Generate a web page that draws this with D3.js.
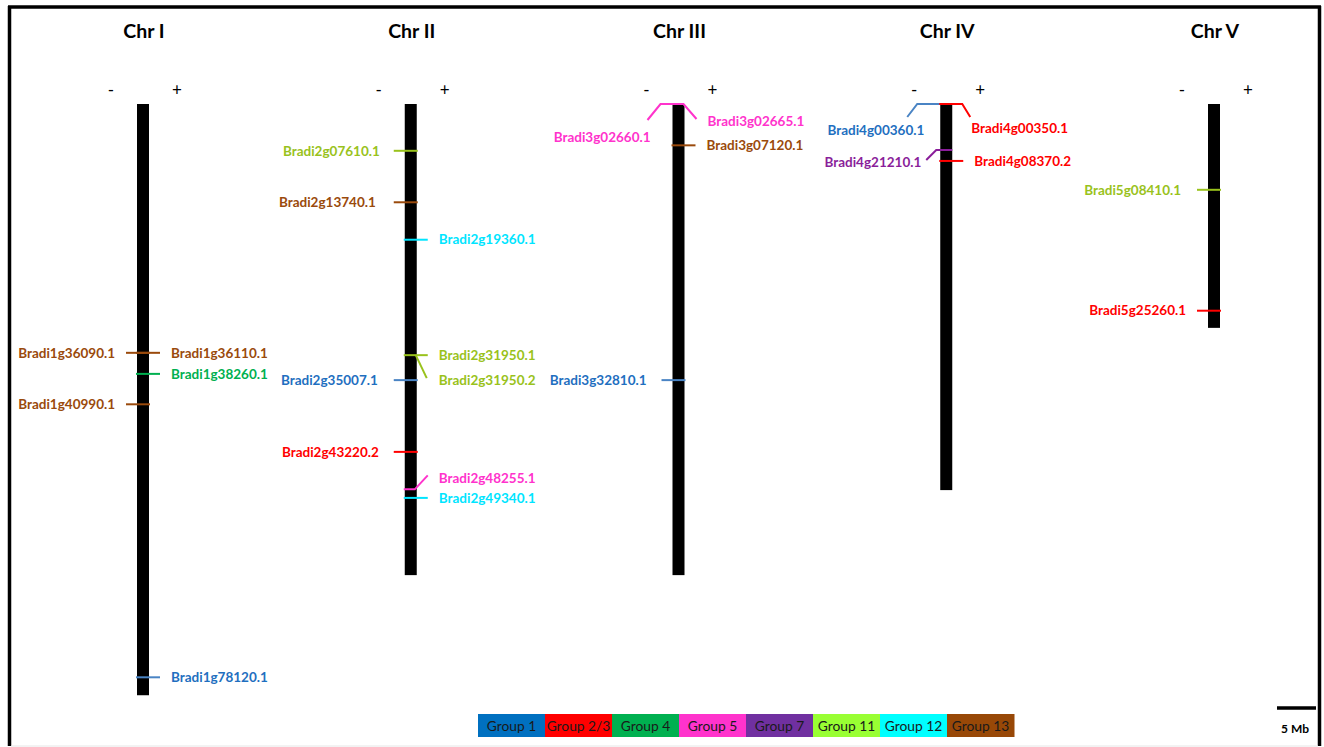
<!DOCTYPE html>
<html>
<head>
<meta charset="utf-8">
<script src="https://cdn.jsdelivr.net/npm/d3@7"></script>
<style>
  html, body { margin: 0; padding: 0; background: #fff; }
  svg { display: block; }
</style>
</head>
<body>
<svg id="chart" width="1324" height="747"></svg>
<script>
// ---------- data ----------
const chromosomes = ["Chr I", "Chr II", "Chr III", "Chr IV", "Chr V"];
const chromLengthsMb = [75.8, 60.4, 60.4, 49.5, 28.7];

const groups = ["Group 1", "Group 2/3", "Group 4", "Group 5", "Group 7", "Group 11", "Group 12", "Group 13"];
const groupFill = ["#0070c0", "#ff0000", "#00b050", "#ff33cc", "#7030a0", "#99ff33", "#00ffff", "#984807"];
const groupInk  = ["#1f6fc0", "#ff0000", "#00b050", "#ff33cc", "#8a1e9a", "#99c21c", "#00e5ff", "#9a4a0c"];
const groupLine = ["#4a84c4", "#ff0000", "#00b050", "#ff33cc", "#8a1e9a", "#99c21c", "#00e5ff", "#9a4a0c"];

const geneNames = [
  "Bradi1g36090.1", "Bradi1g36110.1", "Bradi1g38260.1", "Bradi1g40990.1", "Bradi1g78120.1",
  "Bradi2g07610.1", "Bradi2g13740.1", "Bradi2g19360.1", "Bradi2g31950.1", "Bradi2g31950.2",
  "Bradi2g35007.1", "Bradi2g43220.2", "Bradi2g48255.1", "Bradi2g49340.1",
  "Bradi3g02660.1", "Bradi3g02665.1", "Bradi3g07120.1", "Bradi3g32810.1",
  "Bradi4g00360.1", "Bradi4g00350.1", "Bradi4g21210.1", "Bradi4g08370.2",
  "Bradi5g08410.1", "Bradi5g25260.1"
];
const geneChrom = [0,0,0,0,0, 1,1,1,1,1,1,1,1,1, 2,2,2,2, 3,3,3,3, 4,4];
const genePosMb = [31.9, 31.9, 34.6, 38.5, 73.5,
                   6.0, 12.6, 17.4, 32.2, 32.2, 35.4, 44.6, 49.4, 50.5,
                   0.0, 0.0, 5.3, 35.4,
                   0.0, 0.0, 5.9, 7.3,
                   11.0, 26.5];
const geneStrand = ["-","+","+","-","+",
                    "-","-","+","+","+","-","-","+","+",
                    "-","+","+","-",
                    "-","+","-","+",
                    "-","-"];
const geneGroup = [7,7,2,7,0, 5,7,6,5,5,0,1,3,6, 3,3,7,0, 0,1,4,1, 5,1];

// ---------- layout (callout shapes, not data) ----------
const callout = {
  "Bradi2g07610.1": { lab: [31, 0] },
  "Bradi2g13740.1": { lab: [35, 0] },
  "Bradi2g35007.1": { lab: [33, 0] },
  "Bradi2g43220.2": { lab: [32, 0] },
  "Bradi3g32810.1": { lab: [32, 0] },
  "Bradi5g08410.1": { lab: [33, 0] },
  "Bradi2g31950.2": { s: 5, h: null, e: [16, 23], lab: [28, 25] },
  "Bradi2g48255.1": { h: 4, e: [17, -14], lab: [28, -11] },
  "Bradi3g02660.1": { s: -5, h: 18, e: [31, 16], lab: [28, 33] },
  "Bradi3g02665.1": { s: 0, h: 5, e: [18, 15], lab: [29, 17] },
  "Bradi4g00360.1": { s: -7, h: 29, e: [39, 13], lab: [22, 26] },
  "Bradi4g00350.1": { s: -7, h: 16, e: [24, 13], lab: [25, 24] },
  "Bradi4g21210.1": { s: -6, h: 10, e: [20, 10], lab: [25, 12] }
};

// ---------- drawing ----------
const svg = d3.select("#chart");
const topY = 104, pxPerMb = 7.8;

const x = d3.scalePoint().domain(chromosomes).range([143, 1214]);
const y = d3.scaleLinear().domain([0, 10]).range([topY, topY + 10 * pxPerMb]);
const barW = 12;

// frame
svg.append("line").attr("x1", 9.5).attr("x2", 9.5).attr("y1", 6).attr("y2", 746)
  .attr("stroke", "#000").attr("stroke-width", 3.5);
svg.append("line").attr("x1", 8).attr("x2", 1321).attr("y1", 7).attr("y2", 7)
  .attr("stroke", "#000").attr("stroke-width", 3.5);
svg.append("line").attr("x1", 1319.5).attr("x2", 1319.5).attr("y1", 6).attr("y2", 746)
  .attr("stroke", "#000").attr("stroke-width", 3.5);
svg.append("line").attr("x1", 11).attr("x2", 1318).attr("y1", 746).attr("y2", 746)
  .attr("stroke", "#e6e6e6").attr("stroke-width", 1);

const font = "Lato, 'Open Sans', sans-serif";

// chromosome titles, strand signs, bars
const chr = svg.append("g").selectAll("g").data(chromosomes).join("g");
chr.append("text")
  .attr("x", d => x(d) + 1).attr("y", 38)
  .attr("text-anchor", "middle")
  .attr("font-family", font).attr("font-weight", 700).attr("font-size", 19.5)
  .attr("fill", "#000").text(d => d);
chr.append("text")
  .attr("x", d => x(d) - 32).attr("y", 96)
  .attr("text-anchor", "middle")
  .attr("font-family", font).attr("font-size", 17).attr("fill", "#000").text("-");
chr.append("text")
  .attr("x", d => x(d) + 34).attr("y", 96)
  .attr("text-anchor", "middle")
  .attr("font-family", font).attr("font-size", 17).attr("fill", "#000").text("+");
chr.append("rect")
  .attr("x", d => x(d) - barW / 2).attr("width", barW)
  .attr("y", y(0))
  .attr("height", (d, i) => y(chromLengthsMb[i]) - y(0))
  .attr("fill", "#000");

// genes
const genes = geneNames.map((name, i) => ({
  name, chrom: chromosomes[geneChrom[i]], pos: genePosMb[i],
  strand: geneStrand[i], group: geneGroup[i]
}));

const gG = svg.append("g");
genes.forEach(g => {
  const cx = x(g.chrom), gy = y(g.pos);
  const dir = g.strand === "+" ? 1 : -1;
  const c = Object.assign({ s: -7, h: 17, e: null, lab: [28, 0] }, callout[g.name] || {});
  const pts = [[cx + dir * c.s, gy]];
  if (c.h !== null) pts.push([cx + dir * c.h, gy]);
  if (c.e) pts.push([cx + dir * c.e[0], gy + c.e[1]]);
  gG.append("path")
    .attr("d", d3.line()(pts))
    .attr("fill", "none")
    .attr("stroke", groupLine[g.group])
    .attr("stroke-width", 2);
  gG.append("text")
    .attr("x", cx + dir * c.lab[0])
    .attr("y", gy + c.lab[1])
    .attr("dy", "0.35em")
    .attr("text-anchor", dir > 0 ? "start" : "end")
    .attr("font-family", font).attr("font-weight", 700).attr("font-size", 13.5)
    .attr("fill", groupInk[g.group])
    .text(g.name);
});

// legend
const lx = d3.scaleBand().domain(groups).range([478, 1014]).padding(0);
const leg = svg.append("g").selectAll("g").data(groups).join("g");
leg.append("rect")
  .attr("x", d => lx(d)).attr("y", 714)
  .attr("width", lx.bandwidth() + 0.5).attr("height", 23)
  .attr("fill", (d, i) => groupFill[i]);
leg.append("text")
  .attr("x", d => lx(d) + lx.bandwidth() / 2).attr("y", 726)
  .attr("dy", "0.35em").attr("text-anchor", "middle")
  .attr("font-family", font).attr("font-size", 13.8).attr("fill", "#1a1a1a")
  .text(d => d);

// scale bar 5 Mb
const sbX2 = 1316;
svg.append("line")
  .attr("x1", sbX2 - (y(5) - y(0))).attr("x2", sbX2)
  .attr("y1", 708).attr("y2", 708)
  .attr("stroke", "#000").attr("stroke-width", 3.5);
svg.append("text")
  .attr("x", 1295).attr("y", 729).attr("dy", "0.35em")
  .attr("text-anchor", "middle")
  .attr("font-family", font).attr("font-weight", 700).attr("font-size", 12)
  .attr("fill", "#000").text("5 Mb");
</script>
</body>
</html>
